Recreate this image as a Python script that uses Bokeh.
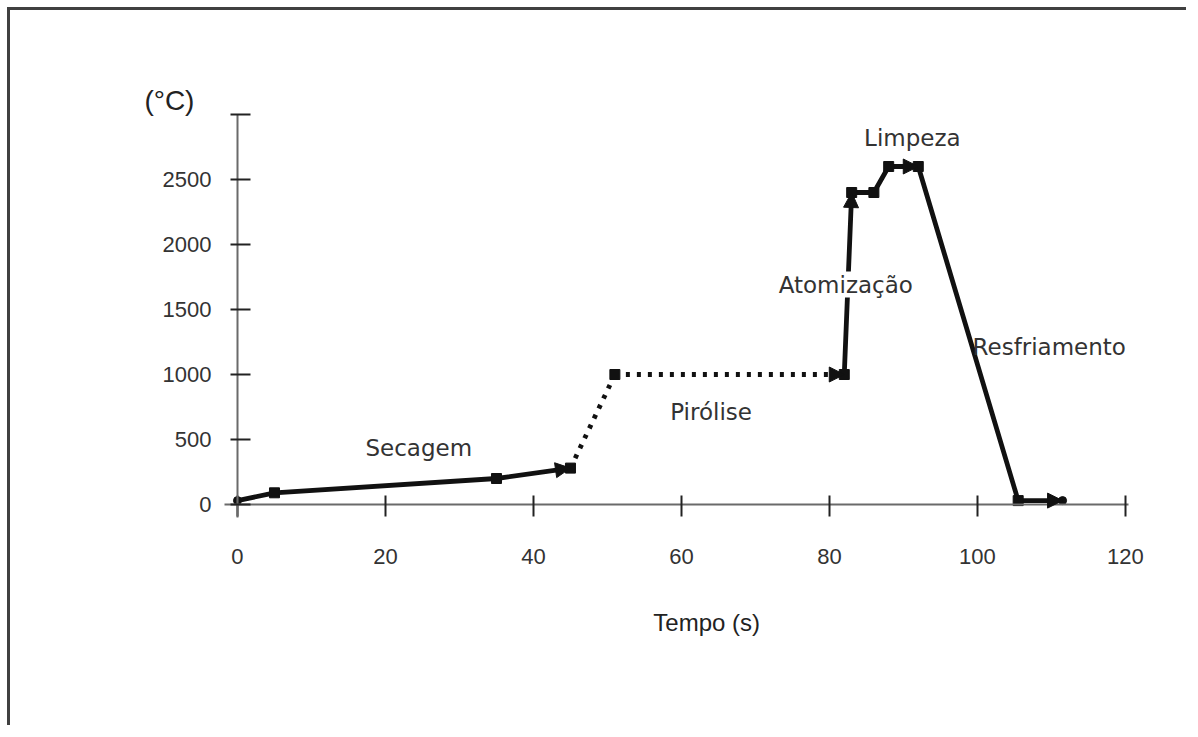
from bokeh.plotting import figure
from bokeh.models import LinearAxis, FixedTicker, Label, Arrow, NormalHead, Range1d
from bokeh.embed import file_html
from bokeh.resources import INLINE

# ---- data ----
time_s = [0, 5, 35, 45, 51, 82, 83, 86, 88, 92, 105.5, 111.5]
temp_c = [30, 90, 200, 280, 1000, 1000, 2400, 2400, 2600, 2600, 30, 30]
# style of each segment between consecutive points
seg_dotted = [False, False, False, True, True, False, False, False, False, False, False]
# segments that end in an arrow head
arrow_segments = [2, 4, 5, 8, 10]
square_points = [1, 2, 3, 4, 5, 6, 7, 8, 9, 10]
circle_points = [0, 11]

x_ticks = [0, 20, 40, 60, 80, 100, 120]
y_ticks = [0, 500, 1000, 1500, 2000, 2500, 3000]

phase_names = ["Secagem", "Pirólise", "Atomização", "Limpeza", "Resfriamento"]
phase_label_x = [24.5, 64.0, 82.2, 91.2, 109.7]
phase_label_y = [431, 708, 1692, 2823, 1208]

INK = "#111111"
TXT = "#333333"

# The frame covers the whole drawing area so that labels placed with
# fixed-location axes are not clipped; the axis lines are limited with bounds.
p = figure(width=1179, height=718,
           x_range=Range1d(-15.81, 125.95), y_range=Range1d(-1107.7, 3338.5),
           x_axis_type=None, y_axis_type=None,
           output_backend="svg", toolbar_location=None,
           min_border_left=110, min_border_top=60,
           min_border_right=20, min_border_bottom=80)
p.outline_line_color = None
p.background_fill_color = "white"
p.border_fill_color = "white"
p.styles = {"border-left": "3px solid #404040", "border-top": "3px solid #404040",
            "margin-left": "7px", "margin-top": "7px"}

def style_axis(ax):
    ax.axis_line_color = "#6a6a6a"
    ax.axis_line_width = 2
    ax.major_tick_line_color = "#222222"
    ax.major_tick_line_width = 2
    ax.minor_tick_line_color = None
    ax.major_label_text_font = "Liberation Sans"
    ax.major_label_text_font_size = "22px"
    ax.major_label_text_color = TXT

xaxis = LinearAxis(fixed_location=0, ticker=FixedTicker(ticks=x_ticks), bounds=(-1.76, 120.4))
style_axis(xaxis)
xaxis.major_tick_in = 9
xaxis.major_tick_out = 12
xaxis.major_label_standoff = 32
p.add_layout(xaxis, "below")

yaxis = LinearAxis(fixed_location=0, ticker=FixedTicker(ticks=y_ticks), bounds=(-100, 3000))
style_axis(yaxis)
yaxis.major_tick_in = 13
yaxis.major_tick_out = 7
yaxis.major_label_standoff = 19
yaxis.major_label_overrides = {3000: ""}
p.add_layout(yaxis, "left")

# ---- segments ----
n = len(time_s)
solid = [i for i in range(n - 1) if not seg_dotted[i]]
dotted = [i for i in range(n - 1) if seg_dotted[i]]
p.segment(x0=[time_s[i] for i in solid], y0=[temp_c[i] for i in solid],
          x1=[time_s[i + 1] for i in solid], y1=[temp_c[i + 1] for i in solid],
          line_color=INK, line_width=4.8, line_cap="round")
p.segment(x0=[time_s[i] for i in dotted], y0=[temp_c[i] for i in dotted],
          x1=[time_s[i + 1] for i in dotted], y1=[temp_c[i + 1] for i in dotted],
          line_color=INK, line_width=4.8, line_dash="4 7", line_cap="butt")

for i in arrow_segments:
    p.add_layout(Arrow(end=NormalHead(size=15, fill_color=INK, line_color=INK),
                       x_start=time_s[i], y_start=temp_c[i],
                       x_end=time_s[i + 1], y_end=temp_c[i + 1],
                       line_alpha=0))

p.scatter([time_s[i] for i in square_points], [temp_c[i] for i in square_points],
          marker="square", size=10, color=INK)
p.scatter([time_s[i] for i in circle_points], [temp_c[i] for i in circle_points],
          marker="circle", size=8, color=INK)

# ---- phase labels ----
for name, lx, ly in zip(phase_names, phase_label_x, phase_label_y):
    p.add_layout(Label(x=lx, y=ly, text=name, text_align="center", text_baseline="middle",
                       text_font="DejaVu Sans", text_font_size="23px", text_color=TXT,
                       background_fill_color="white" if name == "Atomização" else None))

# axis titles
p.add_layout(Label(x=-9.2, y=3108, text="(°C)", text_align="center", text_baseline="middle",
                   text_font="Liberation Sans", text_font_size="28px", text_color="#222222"))
p.add_layout(Label(x=63.4, y=-908, text="Tempo (s)", text_align="center", text_baseline="middle",
                   text_font="Liberation Sans", text_font_size="24px", text_color="#222222"))

open("out.html", "w").write(file_html(p, INLINE))
